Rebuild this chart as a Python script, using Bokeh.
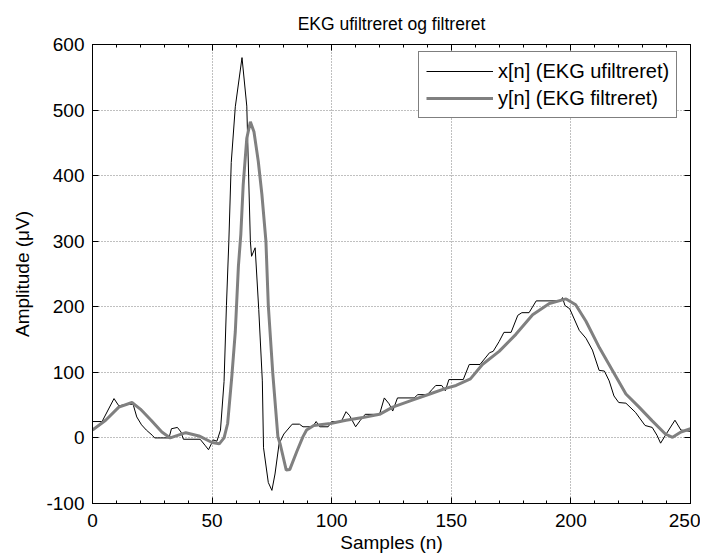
from bokeh.plotting import figure
from bokeh.models import Range1d, LinearAxis, FixedTicker, Legend, LegendItem
from bokeh.embed import file_html
from bokeh.resources import INLINE

# ---- data ----
raw_n = [0, 4, 9, 11, 14, 17, 18.5, 20.5, 22.5, 25, 26, 32, 33, 35.5, 37, 38, 45, 47, 48.5,
         50.5, 52, 53.5, 55, 56, 57, 58, 59.7, 62.5, 64.5, 66, 66.5, 68, 69.5, 71, 71.5,
         73.5, 75, 76.3, 78, 80, 83.5, 86.5, 88, 92, 93.5, 95, 98.5, 100, 104, 106, 107.5,
         110, 112, 114, 120, 122, 124, 125.5, 127.5, 134.5, 136, 140, 142, 143.5, 146,
         147.5, 149, 155, 157.5, 162, 166, 167.5, 170, 172, 175, 177.8, 179.5, 182.5,
         185.5, 195.8, 196.5, 197.5, 199.5, 203.5, 206.3, 209, 211.8, 214, 216, 218, 220,
         223, 227, 231, 234, 236, 237.5, 239.5, 243.5, 246, 250]
raw_v = [25, 25, 60, 49, 51, 51, 32, 20, 12, 4, 0, 0, 14, 16, 9, -2, -2, -11, -18,
         -3, -5, 12, 86, 202, 300, 420, 505, 580, 506, 300, 277, 290, 196, 87, -15,
         -68, -80, -55, -9, 6, 21, 21, 17, 17, 25, 17, 17, 25, 25, 40, 34,
         17, 27, 36, 36, 61, 52, 41, 61, 61, 66, 66, 74, 80, 80,
         72, 89, 89, 112, 112, 130, 132, 147, 161, 161, 187, 191, 191,
         209, 209, 214, 202, 197, 164, 152, 134, 103, 102, 87, 64, 54,
         53, 39, 19, 16, 4, -8, 4, 27, 12, 10]

filt_n = [0, 5.5, 11, 16.5, 20, 24.5, 29, 32.5, 39, 44.5, 50, 53, 55, 56.5, 58.3, 59.7,
          61, 62, 63, 64.5, 66, 67.5, 69.3, 70.8, 72.5, 73.5, 75.4, 77.5, 78.5, 81,
          82.5, 85.5, 88, 89.5, 92.5, 99.5, 106, 113, 120, 125.5, 134, 141, 148, 152,
          155, 158, 163, 170, 177, 184, 191, 198, 202, 206.3, 212, 217.5, 223, 228.5,
          234, 239.5, 242.5, 246, 250]
filt_v = [12, 27, 47, 54, 44, 27, 9, 0, 8, 3, -7, -9, 0, 22, 96, 162,
          262, 310, 386, 457, 482, 467, 422, 372, 300, 202, 97, 2, -10, -49,
          -48, -20, 2, 12, 19, 22, 27, 31, 36, 47, 58, 67, 76, 80,
          85, 90, 112, 132, 158, 188, 205, 212, 203, 178, 137, 102, 67, 47,
          26, 6, 1, 9, 14]

x_ticks = [0, 50, 100, 150, 200, 250]
x_tick_labels = ["0", "50", "100", "150", "200", "250"]
x_minor = [0, 10, 20, 30, 40, 50, 60, 70, 80, 90, 100, 110, 120, 130, 140, 150,
           160, 170, 180, 190, 200, 210, 220, 230, 240, 250]
y_ticks = [-100, 0, 100, 200, 300, 400, 500, 600]
y_tick_labels = ["-100", "0", "100", "200", "300", "400", "500", "600"]

title_text = "EKG ufiltreret og filtreret"
x_label = "Samples (n)"
y_label = "Amplitude (\u03bcV)"
labels = ["x[n] (EKG ufiltreret)", "y[n] (EKG filtreret)"]

FONT = "Liberation Sans"

p = figure(width=700, height=560, x_range=Range1d(0, 250), y_range=Range1d(-100, 600),
           output_backend="svg", toolbar_location=None,
           min_border_left=92, min_border_right=10, min_border_top=42, min_border_bottom=57,
           title=title_text)
p.title.align = "center"
p.title.text_font = FONT
p.title.text_font_size = "17.5px"
p.title.text_font_style = "normal"
p.title.text_color = "black"
p.title.standoff = 22

p.outline_line_color = "black"
p.outline_line_width = 1

xt = FixedTicker(ticks=x_ticks, minor_ticks=x_minor)
yt = FixedTicker(ticks=y_ticks, minor_ticks=[])

p.xaxis.ticker = xt
p.yaxis.ticker = yt
p.xaxis.axis_label = x_label
p.yaxis.axis_label = y_label
p.xaxis.major_label_overrides = dict(zip(x_ticks, x_tick_labels))
p.yaxis.major_label_overrides = dict(zip(y_ticks, y_tick_labels))


def style_axis(ax, show_labels=True):
    ax.axis_line_color = "black"
    ax.axis_line_width = 1
    ax.major_tick_line_color = "black"
    ax.minor_tick_line_color = "black"
    ax.major_tick_in = 6
    ax.major_tick_out = 0
    ax.minor_tick_in = 3
    ax.minor_tick_out = 0
    ax.major_label_text_font = FONT
    ax.axis_label_text_font = FONT
    ax.axis_label_text_font_style = "normal"
    ax.axis_label_text_color = "black"
    ax.axis_label_text_font_size = "19px"
    if show_labels:
        ax.major_label_text_color = "black"
        ax.major_label_text_font_size = "19px"
        ax.major_label_standoff = 8
    else:
        ax.major_label_text_color = None
        ax.major_label_text_font_size = "1px"
        ax.major_label_standoff = 0


for ax in p.xaxis + p.yaxis:
    style_axis(ax)
p.xaxis.major_label_standoff = 10
p.xaxis.axis_label_standoff = 2
p.yaxis.axis_label_standoff = 10

top = LinearAxis(ticker=FixedTicker(ticks=x_ticks, minor_ticks=x_minor))
style_axis(top, False)
p.add_layout(top, "above")
right = LinearAxis(ticker=FixedTicker(ticks=y_ticks, minor_ticks=[]))
style_axis(right, False)
p.add_layout(right, "right")

for g in (p.xgrid, p.ygrid):
    g.grid_line_color = "#808080"
    g.grid_line_width = 1
    g.grid_line_dash = "1 2"
p.xgrid.ticker = xt
p.ygrid.ticker = yt

r1 = p.line(raw_n, raw_v, line_color="black", line_width=1)
r2 = p.line(filt_n, filt_v, line_color="#808080", line_width=3)

leg = Legend(items=[LegendItem(label=labels[0], renderers=[r1]),
                    LegendItem(label=labels[1], renderers=[r2])],
             location=(326, 385), margin=0, padding=7, spacing=3,
             glyph_width=67, glyph_height=24, label_height=24, label_standoff=5,
             label_text_font=FONT, label_text_font_size="20px", label_text_color="black",
             border_line_color="black", border_line_width=1,
             background_fill_color="white", background_fill_alpha=1)
p.add_layout(leg, "center")

open("out.html", "w").write(file_html(p, INLINE))
